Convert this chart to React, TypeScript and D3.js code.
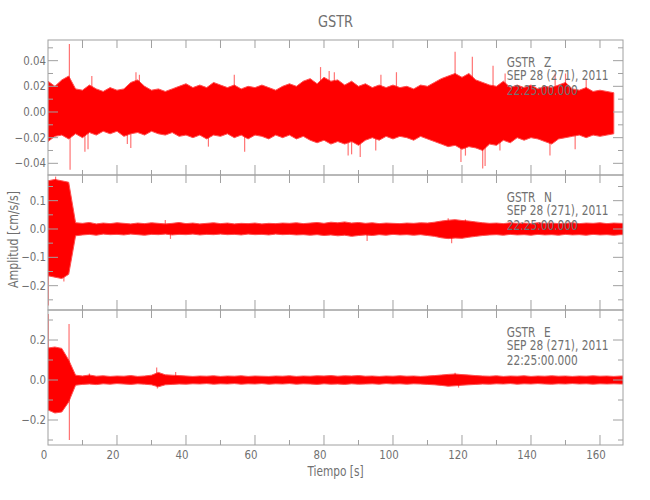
import React from "react";
import * as d3 from "d3";

// ---------- data ----------
const STATION = "GSTR";
const DATE_LABEL = "SEP 28 (271), 2011";
const TIME_LABEL = "22:25:00.000";
const COMPONENTS = ["Z", "N", "E"];
const X_LABEL = "Tiempo [s]";
const Y_LABEL = "Amplitud [cm/s/s]";
const X_MAX = 166.67;
const BIN = 2; // seconds between envelope samples

const xTicks = [0, 20, 40, 60, 80, 100, 120, 140, 160];
const zTicks = [-0.04, -0.02, 0.0, 0.02, 0.04];
const nTicks = [-0.2, -0.1, 0.0, 0.1];
const eTicks = [-0.2, 0.0, 0.2];

// envelope of each trace (upper / lower extent every BIN seconds)
const zUpper = [
  0.024, 0.020, 0.025, 0.028, 0.018, 0.017, 0.021, 0.018, 0.016, 0.019,
  0.017, 0.018, 0.023, 0.025, 0.020, 0.017, 0.018, 0.016, 0.018, 0.020,
  0.022, 0.019, 0.021, 0.019, 0.023, 0.021, 0.019, 0.021, 0.018, 0.020,
  0.019, 0.021, 0.019, 0.017, 0.020, 0.022, 0.020, 0.024, 0.026, 0.022,
  0.027, 0.024, 0.025, 0.021, 0.024, 0.020, 0.022, 0.019, 0.021, 0.019,
  0.021, 0.019, 0.020, 0.018, 0.021, 0.020, 0.023, 0.026, 0.028, 0.030,
  0.027, 0.030, 0.025, 0.023, 0.021, 0.020, 0.024, 0.019, 0.021, 0.019,
  0.021, 0.018, 0.020, 0.019, 0.021, 0.023, 0.018, 0.017, 0.019, 0.016,
  0.017, 0.016, 0.015,
];
const zLower = [
  -0.023, -0.019, -0.018, -0.021, -0.017, -0.020, -0.016, -0.018, -0.015, -0.017,
  -0.015, -0.019, -0.017, -0.016, -0.018, -0.015, -0.017, -0.018, -0.016, -0.019,
  -0.018, -0.020, -0.018, -0.021, -0.018, -0.019, -0.017, -0.020, -0.018, -0.021,
  -0.018, -0.019, -0.021, -0.018, -0.020, -0.018, -0.021, -0.019, -0.022, -0.024,
  -0.022, -0.025, -0.023, -0.025, -0.023, -0.026, -0.022, -0.020, -0.022, -0.019,
  -0.021, -0.019, -0.020, -0.022, -0.019, -0.021, -0.023, -0.025, -0.027, -0.026,
  -0.029, -0.027, -0.028, -0.030, -0.025, -0.026, -0.022, -0.024, -0.020, -0.022,
  -0.020, -0.021, -0.023, -0.025, -0.021, -0.020, -0.019, -0.018, -0.020, -0.018,
  -0.019, -0.018, -0.017,
];
const nUpper = [
  0.170, 0.175, 0.170, 0.165, 0.022, 0.020, 0.023, 0.018, 0.021, 0.019,
  0.022, 0.020, 0.018, 0.021, 0.019, 0.022, 0.020, 0.018, 0.020, 0.023,
  0.019, 0.021, 0.018, 0.020, 0.022, 0.019, 0.021, 0.018, 0.020, 0.019,
  0.021, 0.018, 0.020, 0.019, 0.021, 0.020, 0.022, 0.019, 0.021, 0.023,
  0.020, 0.024, 0.022, 0.025, 0.021, 0.023, 0.020, 0.022, 0.019, 0.021,
  0.020, 0.019, 0.021, 0.020, 0.022, 0.021, 0.024, 0.028, 0.031, 0.033,
  0.030, 0.028, 0.025, 0.022, 0.020, 0.021, 0.019, 0.022, 0.020, 0.021,
  0.019, 0.022, 0.020, 0.021, 0.019, 0.020, 0.022, 0.019, 0.021, 0.020,
  0.022, 0.019, 0.021, 0.020, 0.020,
];
const nLower = [
  -0.165, -0.170, -0.175, -0.160, -0.024, -0.021, -0.019, -0.022, -0.018, -0.020,
  -0.019, -0.021, -0.018, -0.020, -0.022, -0.019, -0.020, -0.018, -0.021, -0.019,
  -0.020, -0.018, -0.021, -0.019, -0.020, -0.018, -0.020, -0.019, -0.021, -0.018,
  -0.020, -0.019, -0.021, -0.018, -0.020, -0.019, -0.021, -0.020, -0.022, -0.020,
  -0.023, -0.021, -0.024, -0.022, -0.026, -0.023, -0.021, -0.023, -0.020, -0.022,
  -0.019, -0.021, -0.020, -0.022, -0.020, -0.023, -0.026, -0.031, -0.034, -0.032,
  -0.033, -0.029, -0.026, -0.023, -0.021, -0.020, -0.022, -0.019, -0.021, -0.020,
  -0.022, -0.019, -0.021, -0.020, -0.022, -0.019, -0.021, -0.020, -0.022, -0.019,
  -0.021, -0.020, -0.022, -0.020, -0.020,
];
const eUpper = [
  0.160, 0.165, 0.158, 0.100, 0.024, 0.020, 0.025, 0.019, 0.021, 0.018,
  0.020, 0.019, 0.022, 0.018, 0.020, 0.024, 0.038, 0.026, 0.024, 0.022,
  0.020, 0.018, 0.020, 0.019, 0.021, 0.018, 0.020, 0.019, 0.021, 0.018,
  0.020, 0.019, 0.018, 0.020, 0.019, 0.021, 0.018, 0.020, 0.019, 0.021,
  0.020, 0.022, 0.019, 0.021, 0.020, 0.022, 0.019, 0.020, 0.018, 0.020,
  0.019, 0.021, 0.019, 0.020, 0.018, 0.020, 0.022, 0.025, 0.028, 0.030,
  0.027, 0.025, 0.022, 0.020, 0.019, 0.021, 0.018, 0.020, 0.019, 0.021,
  0.018, 0.020, 0.019, 0.021, 0.019, 0.020, 0.018, 0.020, 0.019, 0.021,
  0.019, 0.020, 0.018, 0.020, 0.020,
];
const eLower = [
  -0.150, -0.165, -0.160, -0.110, -0.026, -0.022, -0.020, -0.023, -0.019, -0.021,
  -0.018, -0.020, -0.022, -0.019, -0.021, -0.024, -0.034, -0.024, -0.022, -0.020,
  -0.021, -0.019, -0.020, -0.018, -0.021, -0.019, -0.020, -0.018, -0.021, -0.019,
  -0.020, -0.018, -0.021, -0.019, -0.020, -0.018, -0.021, -0.019, -0.020, -0.022,
  -0.019, -0.021, -0.020, -0.022, -0.019, -0.021, -0.020, -0.019, -0.021, -0.018,
  -0.020, -0.019, -0.021, -0.019, -0.020, -0.022, -0.024, -0.027, -0.031, -0.029,
  -0.026, -0.024, -0.022, -0.020, -0.021, -0.019, -0.020, -0.018, -0.021, -0.019,
  -0.020, -0.018, -0.020, -0.021, -0.019, -0.020, -0.018, -0.020, -0.019, -0.021,
  -0.019, -0.020, -0.019, -0.020, -0.020,
];

// isolated spikes [time s, amplitude]
const zSpikes = [
  [6.2, 0.053], [6.4, -0.045], [10.7, -0.031], [11.6, -0.029], [12.7, 0.028],
  [23, -0.025], [24, -0.028], [25.5, 0.031], [26.5, 0.029], [46.5, -0.027],
  [54, 0.029], [57, -0.031], [79, 0.035], [81.5, 0.032], [83, 0.031],
  [87, -0.034], [88, -0.033], [90.5, -0.035], [95, -0.030], [96.5, 0.029],
  [101, 0.031], [118, 0.047], [119.7, -0.039], [121, -0.034], [123, 0.043],
  [126, -0.044], [126.7, -0.042], [129, 0.036], [131, -0.030], [132.5, 0.030],
  [145.5, -0.034], [147, 0.030], [150, 0.030], [152.8, -0.029], [156, 0.026],
];
const nSpikes = [
  [0.1, -0.27], [2.2, 0.185], [4.6, -0.185], [34, 0.032], [35.5, -0.035],
  [92.5, -0.042], [116, 0.038], [117, -0.05], [121, 0.034],
];
const eSpikes = [
  [0.1, 0.33], [6.1, 0.28], [6.2, -0.30], [31.5, 0.063], [31.7, -0.043],
  [37, 0.04], [12, 0.032], [118, 0.036], [119, -0.038],
];

// ---------- layout ----------
const W = 650;
const H = 500;
const LEFT = 48;
const RIGHT = 623;
const PANEL_TOPS = [40, 175, 310];
const PANEL_H = 135;
const FONT = "'DejaVu Sans Condensed', 'DejaVu Sans', sans-serif";
const TEXT = "#707070";
const AXIS = "#a0a0a0";
const RED = "#ff0000";

const panels = [
  { comp: COMPONENTS[0], upper: zUpper, lower: zLower, spikes: zSpikes, ticks: zTicks, domain: [-0.0491, 0.0561], minor: 0.01, digits: 2 },
  { comp: COMPONENTS[1], upper: nUpper, lower: nLower, spikes: nSpikes, ticks: nTicks, domain: [-0.2859, 0.1906], minor: 0.05, digits: 1 },
  { comp: COMPONENTS[2], upper: eUpper, lower: eLower, spikes: eSpikes, ticks: eTicks, domain: [-0.325, 0.35], minor: 0.1, digits: 1 },
];

const fmt = (v: number, digits: number) => {
  const s = Math.abs(v).toFixed(digits);
  return v < -1e-9 ? "\u2212" + s : s;
};

// narrow text: horizontally squeezed glyphs to imitate the plotting font
function NText(props: { x: number; y: number; sx?: number; size: number; anchor?: string; rotate?: number; children: React.ReactNode }) {
  const { x, y, sx = 0.84, size, anchor = "start", rotate = 0, children } = props;
  return (
    <text
      transform={`translate(${x},${y}) rotate(${rotate}) scale(${sx},1)`}
      textAnchor={anchor}
      fontSize={size}
      fill={TEXT}
    >
      {children}
    </text>
  );
}

export default function App() {
  const x = d3.scaleLinear().domain([0, X_MAX]).range([LEFT, RIGHT]);
  const minorX = d3.range(10, X_MAX, 10);

  return (
    <svg width={W} height={H} style={{ position: "absolute", left: 0, top: 0, background: "#fff" }} fontFamily={FONT}>
      <rect x={0} y={0} width={W} height={H} fill="#fff" />
      <defs>
        {panels.map((p, i) => (
          <clipPath id={`clip${i}`} key={i}>
            <rect x={LEFT} y={PANEL_TOPS[i]} width={RIGHT - LEFT} height={PANEL_H} />
          </clipPath>
        ))}
      </defs>

      {panels.map((p, i) => {
        const top = PANEL_TOPS[i];
        const y = d3.scaleLinear().domain(p.domain).range([top + PANEL_H, top]);
        const pts = p.upper.map((u, k) => ({ t: k * BIN, u, l: p.lower[k] }));
        const area = d3
          .area<{ t: number; u: number; l: number }>()
          .x((d) => x(d.t))
          .y0((d) => y(d.l))
          .y1((d) => y(d.u));
        const minorY = d3
          .range(Math.ceil(p.domain[0] / p.minor), Math.floor(p.domain[1] / p.minor) + 1)
          .map((k) => k * p.minor)
          .filter((v) => !p.ticks.some((t) => Math.abs(t - v) < 1e-9));
        return (
          <g key={i}>
            <g clipPath={`url(#clip${i})`}>
              <path d={area(pts) || ""} fill={RED} stroke="#ff5050" strokeWidth={1} strokeLinejoin="round" />
              {p.spikes.map(([t, v], k) => (
                <line key={k} x1={x(t)} x2={x(t)} y1={y(0)} y2={y(v)} stroke={RED} strokeOpacity={0.55} strokeWidth={1.2} />
              ))}
            </g>
            {/* frame */}
            <rect x={LEFT} y={top} width={RIGHT - LEFT} height={PANEL_H} fill="none" stroke={AXIS} strokeWidth={1} />
            {/* y ticks */}
            {p.ticks.map((t) => (
              <g key={`M${t}`}>
                <line x1={LEFT} x2={LEFT + 10} y1={y(t)} y2={y(t)} stroke={AXIS} />
                <line x1={RIGHT} x2={RIGHT - 10} y1={y(t)} y2={y(t)} stroke={AXIS} />
                <NText x={LEFT - 2} y={y(t) + 4} size={12} sx={0.95} anchor="end">
                  {fmt(t, p.digits)}
                </NText>
              </g>
            ))}
            {minorY.map((t) => (
              <g key={`m${t}`}>
                <line x1={LEFT} x2={LEFT + 5} y1={y(t)} y2={y(t)} stroke={AXIS} />
                <line x1={RIGHT} x2={RIGHT - 5} y1={y(t)} y2={y(t)} stroke={AXIS} />
              </g>
            ))}
            {/* x ticks on top and bottom of panel */}
            {minorX.map((t) => {
              const major = Math.round(t) % 20 === 0;
              return (
                <g key={`x${t}`}>
                  <line x1={x(t)} x2={x(t)} y1={top} y2={top + 8} stroke={AXIS} />
                  <line x1={x(t)} x2={x(t)} y1={top + PANEL_H} y2={top + PANEL_H - (major ? 10 : 5)} stroke={AXIS} />
                </g>
              );
            })}
            {/* annotation */}
            <NText x={506.7} y={top + 26.5} size={14}>{STATION}</NText>
            <NText x={544} y={top + 26.5} size={14}>{p.comp}</NText>
            <NText x={506.7} y={top + 40.3} size={14}>{DATE_LABEL}</NText>
            <NText x={506.7} y={top + 54.6} size={14}>{TIME_LABEL}</NText>
          </g>
        );
      })}

      {/* bottom x labels */}
      {xTicks.map((t) => (
        <NText key={t} x={x(t) - 4} y={458.5} size={12} sx={0.95} anchor="middle">
          {t}
        </NText>
      ))}
      <NText x={(LEFT + RIGHT) / 2} y={476} size={14} anchor="middle">
        {X_LABEL}
      </NText>
      <NText x={18} y={PANEL_TOPS[1] + PANEL_H / 2 - 3} size={14.5} rotate={-90} anchor="middle">
        {Y_LABEL}
      </NText>
      <NText x={(LEFT + RIGHT) / 2} y={27} size={16} sx={0.9} anchor="middle">
        {STATION}
      </NText>
    </svg>
  );
}
